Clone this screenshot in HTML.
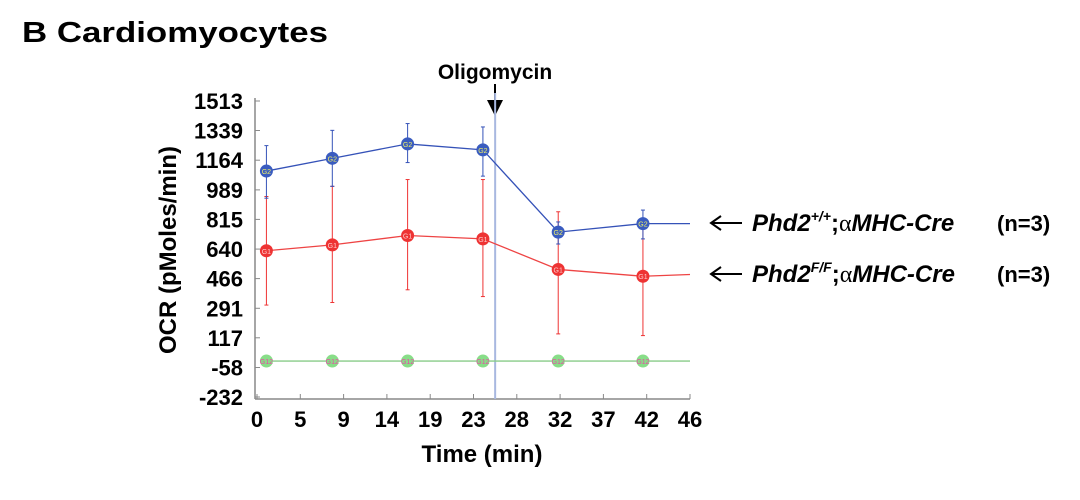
<!DOCTYPE html>
<html><head><meta charset="utf-8"><style>
body{margin:0;background:#fff;width:1080px;height:495px;overflow:hidden;font-family:"Liberation Sans",Arial,sans-serif}
text{font-family:"Liberation Sans",Arial,sans-serif}
</style></head><body>
<svg id="c" width="1080" height="495">
<text x="22" y="42" font-size="29" font-weight="bold" textLength="306" lengthAdjust="spacingAndGlyphs">B  Cardiomyocytes</text>
<text x="495" y="79" font-size="21" font-weight="bold" text-anchor="middle">Oligomycin</text>
<line x1="495" y1="84" x2="495" y2="108" stroke="#000" stroke-width="2"/>
<polygon points="487,100 503,100 495,116" fill="#000"/>
<text transform="translate(176,250) rotate(-90)" font-size="24" font-weight="bold" text-anchor="middle">OCR (pMoles/min)</text>
<text x="482" y="462" font-size="24" font-weight="bold" text-anchor="middle">Time (min)</text>
<g id="legend" font-size="24" font-weight="bold">
<line x1="712" y1="223" x2="742" y2="223" stroke="#000" stroke-width="2"/><polyline points="721,216 711,223 721,230" fill="none" stroke="#000" stroke-width="2"/>
<text x="752" y="231"><tspan font-style="italic">Phd2</tspan><tspan font-size="14" dy="-10" font-style="italic">+/+</tspan><tspan dy="10">;</tspan><tspan font-weight="normal" font-family="Liberation Serif">α</tspan><tspan font-style="italic">MHC-Cre</tspan><tspan x="997" font-size="22">(n=3)</tspan></text>
<line x1="712" y1="274" x2="742" y2="274" stroke="#000" stroke-width="2"/><polyline points="721,267 711,274 721,281" fill="none" stroke="#000" stroke-width="2"/>
<text x="752" y="282"><tspan font-style="italic">Phd2</tspan><tspan font-size="14" dy="-10" font-style="italic">F/F</tspan><tspan dy="10">;</tspan><tspan font-weight="normal" font-family="Liberation Serif">α</tspan><tspan font-style="italic">MHC-Cre</tspan><tspan x="997" font-size="22">(n=3)</tspan></text>
</g>
<g id="plot"></g>
</svg>
<script>
const yTicks=[1513,1339,1164,989,815,640,466,291,117,-58,-232];
const xTickLabels=["0","5","9","14","19","23","28","32","37","42","46"];
const times=[1,8,16,24,32,41,46];
const wtMean=[1100,1175,1260,1225,740,790,790];
const wtHi=[1250,1340,1380,1360,800,870,null];
const wtLo=[940,1010,1150,1070,670,700,null];
const ffMean=[630,665,720,700,520,480,490];
const ffHi=[950,1010,1050,1050,860,820,null];
const ffLo=[310,325,400,360,140,130,null];
const bgMean=[-20,-20,-20,-20,-20,-20,-20];
const oligoTime=25.3;
const X=t=>257+t*(433/46);
const Y=v=>101+(1513-v)/1745*296;
const g=document.getElementById('plot');const NS='http://www.w3.org/2000/svg';
function el(tag,a,p){const e=document.createElementNS(NS,tag);for(const k in a)e.setAttribute(k,a[k]);(p||g).appendChild(e);return e;}
let a=el('line',{x1:X(0)-2,y1:Y(1513)-3,x2:X(0)-2,y2:Y(-232)+2,stroke:'#888','stroke-width':1.5});

a=el('line',{x1:X(0)-2,y1:Y(-232)+2,x2:X(46),y2:Y(-232)+2,stroke:'#888','stroke-width':1.5});

yTicks.forEach(v=>{let t=el('text',{x:X(0)-14,y:Y(v)+8,'font-size':22,'font-weight':'bold','text-anchor':'end'});t.textContent=v;

el('line',{x1:X(0)-2,y1:Y(v),x2:X(0)+3,y2:Y(v),stroke:'#888'});});
xTickLabels.forEach((s,i)=>{const tv=i*4.6;let t=el('text',{x:X(tv),y:Y(-232)+30,'font-size':22,'font-weight':'bold','text-anchor':'middle'});t.textContent=s;

el('line',{x1:X(tv),y1:Y(-232)+2,x2:X(tv),y2:Y(-232)-3,stroke:'#888'});});
let ol=el('line',{x1:X(oligoTime),y1:Y(1513)-8,x2:X(oligoTime),y2:Y(-232)+2,stroke:'#a8b8e0','stroke-width':2});

function series(m,hi,lo,col,fill,lab,name,lc){
 let p=el('polyline',{points:m.map((v,i)=>X(times[i])+','+Y(v)).join(' '),fill:'none',stroke:lc,'stroke-width':1.3});
 
 m.forEach((v,i)=>{if(i>=6)return;
  if(hi&&hi[i]!=null){let e=el('line',{x1:X(times[i]),y1:Y(hi[i]),x2:X(times[i]),y2:Y(lo[i]),stroke:col,'stroke-width':1});
   
   el('line',{x1:X(times[i])-2,y1:Y(hi[i]),x2:X(times[i])+2,y2:Y(hi[i]),stroke:col});
   el('line',{x1:X(times[i])-2,y1:Y(lo[i]),x2:X(times[i])+2,y2:Y(lo[i]),stroke:col});}
  let c=el('circle',{cx:X(times[i]),cy:Y(v),r:6.5,fill:fill});
  
  let t=el('text',{x:X(times[i]),y:Y(v)+3,'font-size':7,'text-anchor':'middle',fill:lab});t.textContent=name=='wt'?'G2':name=='ff'?'G1':'G12';});
}
series(bgMean,null,null,'#7c7','#8d8','#e4a','background','#8c8');
series(ffMean,ffHi,ffLo,'#e33','#e33','#fcc','ff','#e44');
series(wtMean,wtHi,wtLo,'#3552b8','#3a5cc0','#ee6','wt','#3552b8');
</script>
</body></html>
